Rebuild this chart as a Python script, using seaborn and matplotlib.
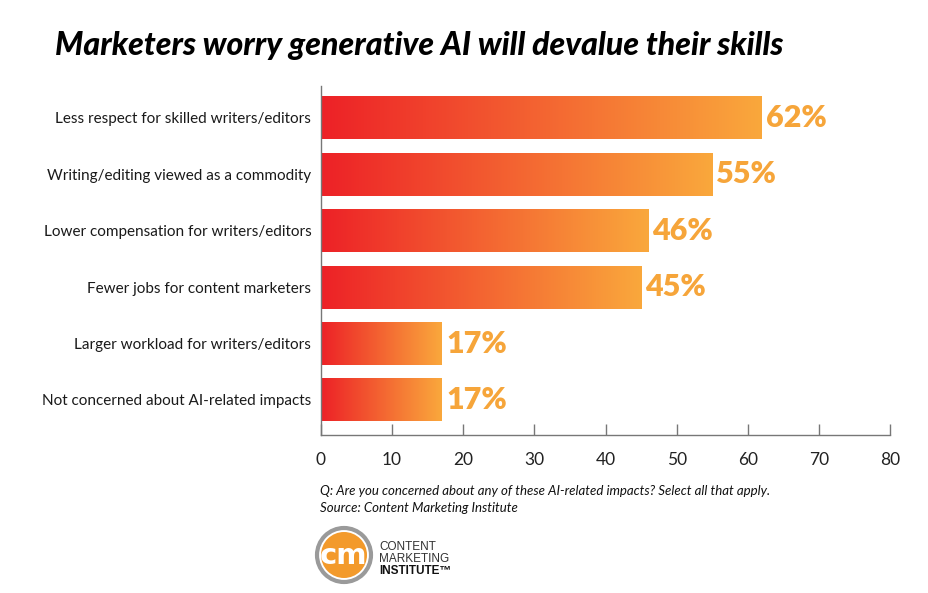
import numpy as np
import pandas as pd
import matplotlib
matplotlib.use("Agg")
import matplotlib.pyplot as plt
import seaborn as sns
from matplotlib.colors import LinearSegmentedColormap
from matplotlib.patches import Circle

categories = [
    "Less respect for skilled writers/editors",
    "Writing/editing viewed as a commodity",
    "Lower compensation for writers/editors",
    "Fewer jobs for content marketers",
    "Larger workload for writers/editors",
    "Not concerned about AI-related impacts",
]
values = [62, 55, 46, 45, 17, 17]
value_labels = ["62%", "55%", "46%", "45%", "17%", "17%"]
xticks = [0, 10, 20, 30, 40, 50, 60, 70, 80]

title = "Marketers worry generative AI will devalue their skills"
note1 = "Q: Are you concerned about any of these AI-related impacts? Select all that apply."
note2 = "Source: Content Marketing Institute"

RED = "#ED2127"
ORANGE = "#FAA83C"
LABEL = "#F6A53A"

sns.set_theme(style="white")
plt.rcParams["font.family"] = ["Lato", "DejaVu Sans"]

df = pd.DataFrame({"category": categories, "value": values})

fig = plt.figure(figsize=(9.29, 5.93), dpi=100)
ax = fig.add_axes([321 / 929, 1 - 435 / 593, (890 - 321) / 929, (435 - 86) / 593])

sns.barplot(data=df, x="value", y="category", orient="h", ax=ax,
            width=0.76, color=RED, saturation=1)

cmap = LinearSegmentedColormap.from_list("g", [RED, ORANGE])
grad = np.linspace(0, 1, 256).reshape(1, -1)
for p in list(ax.patches):
    x0, y0 = p.get_x(), p.get_y()
    w, h = p.get_width(), p.get_height()
    p.set_facecolor("none")
    p.set_edgecolor("none")
    ax.imshow(grad, cmap=cmap, aspect="auto", extent=[x0, x0 + w, y0 + h, y0],
              zorder=2, interpolation="bicubic")

ax.set_xlim(0, 80)
ax.set_ylim(5.62, -0.56)

for i, (v, lab) in enumerate(zip(values, value_labels)):
    ax.annotate(lab, xy=(v, i), xytext=(3, 0), textcoords="offset points",
                ha="left", va="center", fontsize=22, fontweight="heavy",
                color=LABEL, family="Lato")

ax.set_xticks(xticks)
ax.set_xticklabels([str(t) for t in xticks])
ax.set_xlabel("")
ax.set_ylabel("")
ax.tick_params(axis="x", direction="in", length=8, width=1, color="#777777",
               labelsize=12.5, labelcolor="#222222", pad=12, bottom=True)
ax.tick_params(axis="y", length=0, labelsize=11, labelcolor="#1a1a1a", pad=7)
for s in ["top", "right"]:
    ax.spines[s].set_visible(False)
for s in ["left", "bottom"]:
    ax.spines[s].set_color("#777777")
    ax.spines[s].set_linewidth(1)

fig.text(55 / 929, 1 - 46 / 593, title, fontsize=23, fontweight="black",
         style="italic", color="#000000", va="center", ha="left")
fig.text(320 / 929, 1 - 491 / 593, note1, fontsize=9.5, style="italic",
         color="#111111", va="center", ha="left")
fig.text(320 / 929, 1 - 508 / 593, note2, fontsize=9.5, style="italic",
         color="#111111", va="center", ha="left")

# logo
lax = fig.add_axes([0, 0, 1, 1], facecolor="none")
lax.set_xlim(0, 929)
lax.set_ylim(593, 0)
lax.axis("off")
lax.add_patch(Circle((344, 555), 27, facecolor="white", edgecolor="#9a9a9a", lw=3))
lax.add_patch(Circle((344, 555), 23, facecolor="#F39A2B", edgecolor="none"))
lax.text(344, 556, "cm", color="white", fontsize=21, fontweight="bold",
         ha="center", va="center", family=["DejaVu Sans"])
lax.text(379, 547, "CONTENT", fontsize=8.5, color="#333333", ha="left", va="center",
         family=["Liberation Sans"])
lax.text(379, 559, "MARKETING", fontsize=8.5, color="#333333", ha="left", va="center",
         family=["Liberation Sans"])
lax.text(379, 571, "INSTITUTE\u2122", fontsize=8.5, color="#111111", ha="left", va="center",
         fontweight="bold", family=["Liberation Sans"])

fig.savefig("out.png", dpi=100)
